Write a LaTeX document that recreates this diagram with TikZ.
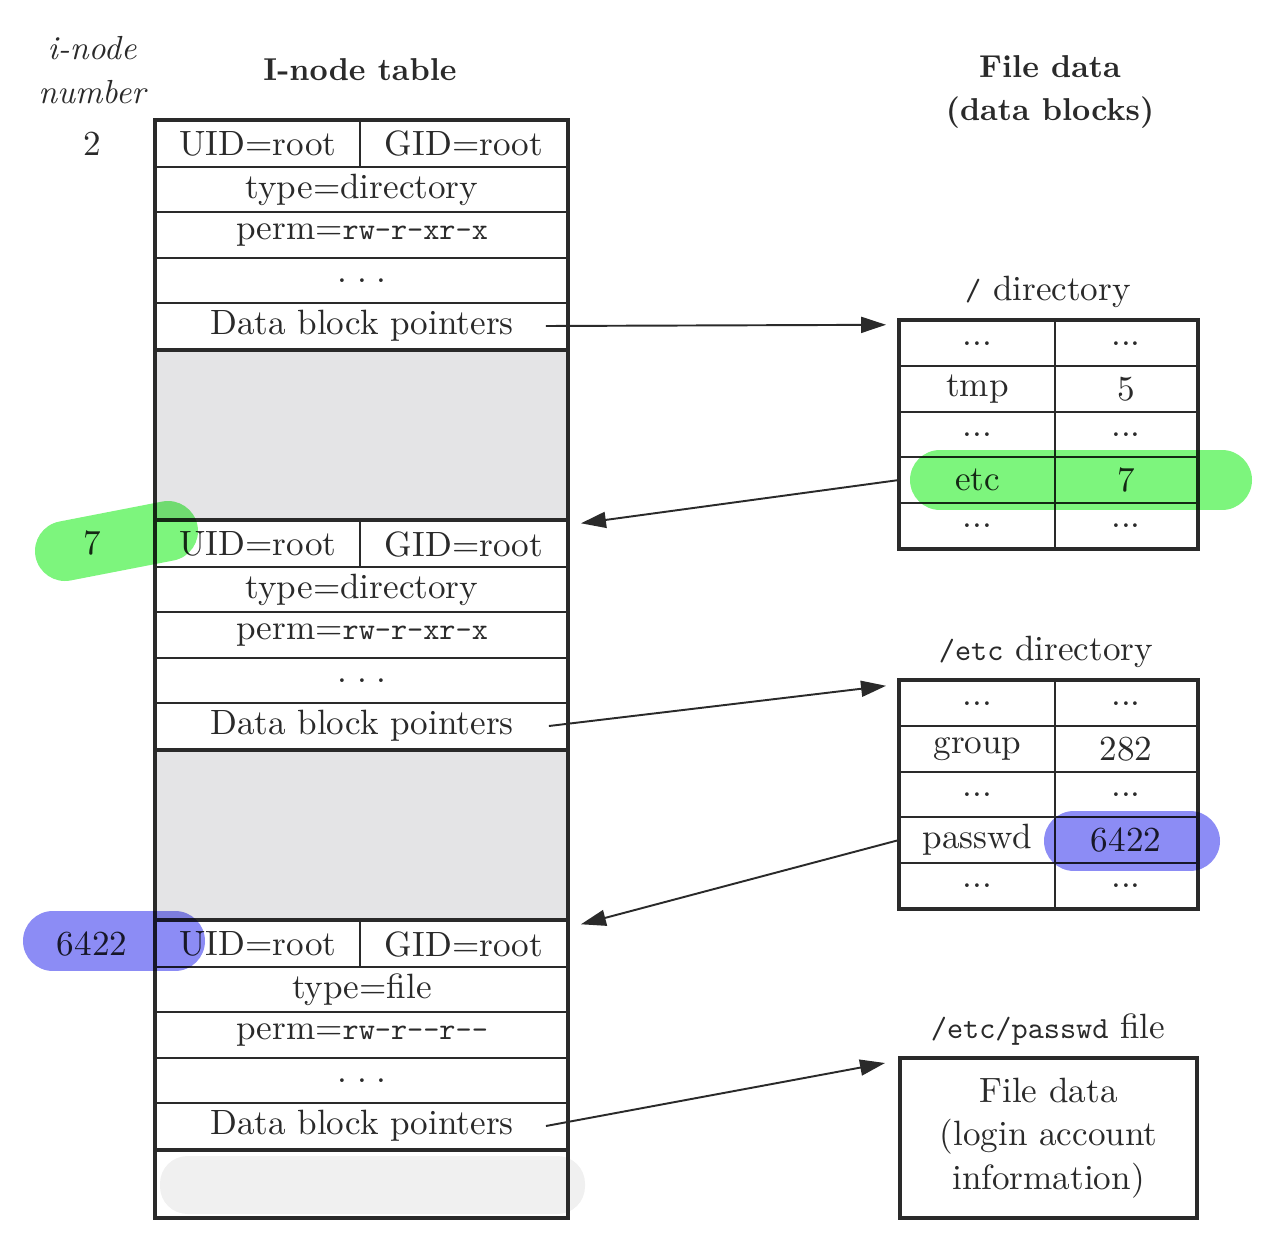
\documentclass[tikz,border=0pt]{standalone}
\usepackage{fontspec}
\setmainfont{lmroman10-regular.otf}[BoldFont=lmroman10-bold.otf, ItalicFont=lmroman10-italic.otf]
\setmonofont{lmmono10-regular.otf}
\usetikzlibrary{arrows.meta}

\definecolor{ink}{HTML}{2A2A2A}
\definecolor{boxgray}{HTML}{E4E4E6}
\definecolor{blobgray}{HTML}{F0F0F0}
\definecolor{markgreen}{RGB}{125,245,125}
\definecolor{markblue}{RGB}{140,140,245}
\newcommand{\codetxt}[1]{{\fontsize{17.5}{20}\selectfont\ttfamily #1}}
\newcommand{\spdots}{.\hspace{0.27em}.\hspace{0.27em}.}

\tikzset{
  body/.style={font=\fontsize{20}{24.7}\selectfont, text=ink},
  cell/.style={draw=ink, line width=1.1pt, inner sep=0pt, minimum height=0.91cm, body},
  halfl/.style={cell, minimum width=4.08cm},
  halfr/.style={cell, minimum width=4.16cm},
  full/.style={cell, minimum width=8.24cm},
  hole/.style={cell, minimum width=8.24cm, minimum height=3.44cm, fill=boxgray},
  namecell/.style={cell, minimum width=3.1cm},
  numcell/.style={cell, minimum width=2.84cm},
  heading/.style={font=\fontsize{18}{24.5}\selectfont\bfseries, text=ink, align=center},
  frameline/.style={draw=ink, line width=2.3pt},
  pointer/.style={draw=ink, line width=1.1pt, -{Triangle[length=0.5cm,width=0.32cm]}},
  hilite/.style={line width=1.2cm, line cap=round},
}

\begin{document}
\begin{tikzpicture}[x=0.02cm, y=-0.02cm]
\useasboundingbox (0,0) rectangle (1280,1233);

% headings
\node[font=\fontsize{19}{25}\selectfont\itshape, text=ink, align=center] (numhead) at (92,70) {i-node\\number};
\node[heading] (tabhead) at (360,70) {I-node table};
\node[heading] (datahead) at (1050,92) {File data\\(data blocks)};

% i-node numbers
\node[body] (num2) at (92,144) {2};
\node[body] (num7) at (92,543) {7};
\node[body] (num6422) at (92,944) {6422};

% i-node table
\fill[blobgray, rounded corners=0.55cm] (160,1156) rectangle (585,1214);

\node[halfl] (uid1) at (258,144) {UID=root};
\node[halfr] (gid1) at (464,144) {GID=root};
\node[full] (type1) at (362,189.5) {type=directory};
\node[full] (perm1) at (362,235) {perm=\codetxt{rw-r-xr-x}};
\node[full] (dots1) at (362,280.5) {\spdots};
\node[full] (ptr1) at (362,326) {Data block pointers};
\node[hole] (gap1) at (362,435) {};

\node[halfl] (uid2) at (258,544) {UID=root};
\node[halfr] (gid2) at (464,544) {GID=root};
\node[full] (type2) at (362,589.5) {type=directory};
\node[full] (perm2) at (362,635) {perm=\codetxt{rw-r-xr-x}};
\node[full] (dots2) at (362,680.5) {\spdots};
\node[full] (ptr2) at (362,726) {Data block pointers};
\node[hole] (gap2) at (362,835) {};

\node[halfl] (uid3) at (258,944) {UID=root};
\node[halfr] (gid3) at (464,944) {GID=root};
\node[full] (type3) at (362,989.5) {type=file};
\node[full] (perm3) at (362,1035) {perm=\codetxt{rw-r-{}-r-{}-}};
\node[full] (dots3) at (362,1080.5) {\spdots};
\node[full] (ptr3) at (362,1126) {Data block pointers};

\draw[frameline] (uid1.north west) rectangle (568,1218);
\draw[frameline] (ptr1.south west) -- (ptr1.south east);
\draw[frameline] (uid2.north west) -- (gid2.north east);
\draw[frameline] (ptr2.south west) -- (ptr2.south east);
\draw[frameline] (uid3.north west) -- (gid3.north east);
\draw[frameline] (ptr3.south west) -- (ptr3.south east);

% / directory
\node[body] (rootlab) at (1048,292) {\codetxt{/} directory};
\node[namecell] (rn1) at (977.5,343.5) {...};
\node[numcell] (ri1) at (1126,343.5) {...};
\node[namecell] (rn2) at (977.5,389) {tmp};
\node[numcell] (ri2) at (1126,389) {5};
\node[namecell] (rn3) at (977.5,434.5) {...};
\node[numcell] (ri3) at (1126,434.5) {...};
\node[namecell] (etcn) at (977.5,480) {etc};
\node[numcell] (etci) at (1126,480) {7};
\node[namecell] (rn5) at (977.5,525.5) {...};
\node[numcell] (ri5) at (1126,525.5) {...};
\draw[frameline] (rn1.north west) rectangle (ri5.south east);

% /etc directory
\node[body] (etclab) at (1046,652) {\codetxt{/etc} directory};
\node[namecell] (en1) at (977.5,703.5) {...};
\node[numcell] (ei1) at (1126,703.5) {...};
\node[namecell] (en2) at (977.5,749) {group};
\node[numcell] (ei2) at (1126,749) {282};
\node[namecell] (en3) at (977.5,794.5) {...};
\node[numcell] (ei3) at (1126,794.5) {...};
\node[namecell] (pwn) at (977.5,840) {passwd};
\node[numcell] (pwi) at (1126,840) {6422};
\node[namecell] (en5) at (977.5,885.5) {...};
\node[numcell] (ei5) at (1126,885.5) {...};
\draw[frameline] (en1.north west) rectangle (ei5.south east);

% /etc/passwd file
\node[body] (pwlab) at (1048,1030) {\codetxt{/etc/passwd} file};
\node[cell, line width=2.3pt, minimum width=5.94cm, minimum height=3.2cm, align=center] (pwbox) at (1048.5,1138) {File data\\(login account\\information)};

% pointers
\draw[pointer] ([xshift=-0.46cm]ptr1.east) -- ([xshift=-0.26cm,yshift=-0.1cm]rn1.north west);
\draw[pointer] (etcn.west) -- ([xshift=0.24cm,yshift=-0.06cm]gid2.north east);
\draw[pointer] ([xshift=-0.4cm]ptr2.east) -- ([xshift=-0.26cm,yshift=-0.12cm]en1.north west);
\draw[pointer] (pwn.west) -- ([xshift=0.24cm,yshift=-0.08cm]gid3.north east);
\draw[pointer] ([xshift=-0.46cm]ptr3.east) -- ([xshift=-0.26cm,yshift=-0.14cm]pwbox.north west);

% highlighter strokes
\begin{scope}[blend mode=multiply]
\draw[hilite, markgreen] (65,551) -- (168,531);
\draw[hilite, markgreen] (940,480) -- (1222,480);
\draw[hilite, markblue] (1074,841) -- (1190,841);
\draw[hilite, markblue] (53,941) -- (175,941);
\end{scope}
\end{tikzpicture}
\end{document}
